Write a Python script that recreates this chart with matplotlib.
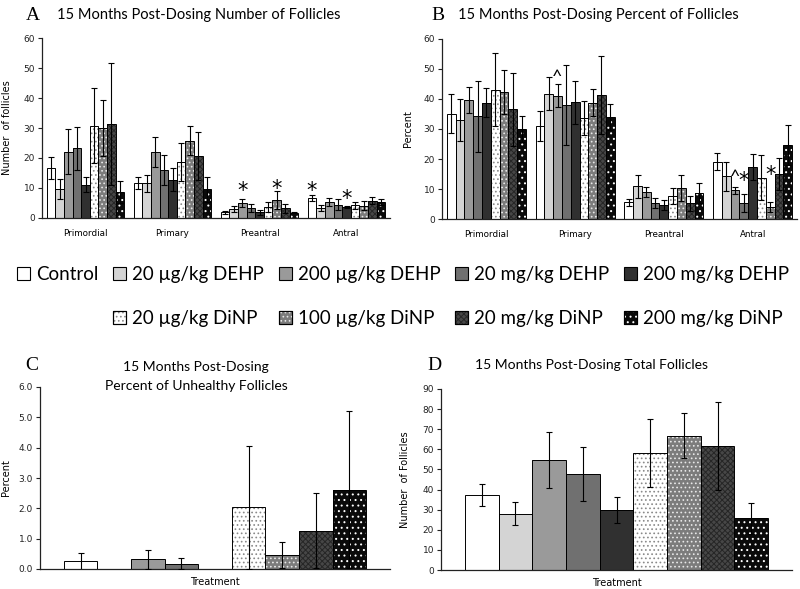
import numpy as np
import matplotlib
matplotlib.use('Agg')
import matplotlib.pyplot as plt
from matplotlib.patches import Patch

# ---------------- data ----------------
categories = ['Primordial', 'Primary', 'Preantral', 'Antral']
treatments = ['Control', '20 µg/kg DEHP', '200 µg/kg DEHP', '20 mg/kg DEHP', '200 mg/kg DEHP',
              '20 µg/kg DiNP', '100 µg/kg DiNP', '20 mg/kg DiNP', '200 mg/kg DiNP']

# Panel A: number of follicles (rows = treatments, cols = categories)
num_mean = [[16.7, 11.6, 1.9, 6.7],
            [9.7, 11.6, 3.1, 3.3],
            [22.1, 22.0, 5.0, 5.3],
            [23.2, 15.9, 3.3, 4.4],
            [11.1, 12.8, 1.9, 3.7],
            [30.8, 18.6, 3.7, 4.2],
            [30.1, 25.8, 6.1, 4.1],
            [31.3, 20.6, 3.2, 5.8],
            [8.6, 9.6, 1.7, 5.2]]
num_err = [[3.7, 2.1, 0.5, 0.9],
           [3.3, 2.8, 1.0, 1.1],
           [7.6, 5.0, 1.3, 1.4],
           [7.1, 5.0, 1.3, 1.9],
           [2.6, 3.9, 0.9, 0.4],
           [12.5, 6.4, 1.6, 1.1],
           [9.3, 4.8, 3.0, 1.6],
           [20.3, 8.1, 1.6, 1.3],
           [3.7, 4.2, 0.2, 1.0]]

# Panel B: percent of follicles
pct_mean = [[35.1, 30.9, 5.6, 19.1],
            [32.9, 41.8, 10.9, 14.2],
            [39.8, 41.1, 9.0, 9.6],
            [34.2, 38.0, 5.3, 5.3],
            [38.8, 38.9, 4.7, 17.3],
            [43.1, 33.6, 7.6, 13.7],
            [42.3, 38.8, 10.4, 4.0],
            [36.6, 41.4, 5.3, 15.0],
            [30.0, 34.0, 8.7, 24.7]]
pct_err = [[6.5, 5.0, 1.2, 2.9],
           [7.0, 5.5, 3.9, 4.8],
           [4.3, 3.8, 1.6, 1.1],
           [11.9, 13.4, 1.7, 3.1],
           [4.9, 7.2, 1.7, 4.4],
           [12.2, 5.6, 2.7, 7.5],
           [7.3, 4.5, 4.4, 1.6],
           [12.1, 13.0, 2.5, 5.3],
           [4.2, 4.3, 3.3, 6.6]]

# Panel C: percent unhealthy follicles
unh_mean = [0.26, 0.0, 0.32, 0.18, 0.0, 2.03, 0.46, 1.26, 2.62]
unh_err = [0.28, 0.0, 0.31, 0.19, 0.0, 2.04, 0.43, 1.23, 2.60]

# Panel D: total follicles
tot_mean = [37.3, 28.0, 54.7, 47.6, 29.9, 58.2, 66.8, 61.5, 25.7]
tot_err = [5.6, 5.7, 13.8, 13.5, 6.6, 16.8, 11.1, 21.8, 7.6]

# significance markers: (category index, treatment index, symbol, y level)
sig_A = [(2, 2, '*', 11.1), (2, 6, '*', 11.7), (3, 0, '*', 11.1), (3, 4, '*', 8.3)]
sig_B = [(1, 2, '^', 49.2), (3, 2, '^', 15.9), (3, 3, '*', 14.8), (3, 6, '*', 16.7)]

# ---------------- style ----------------
faces = ['white', '#d4d4d4', '#9a9a9a', '#707070', '#303030', 'white', '#7c7c7c', '#474747', '#0a0a0a']
hatches = [None, None, None, None, None, '....', '....', 'xxxxxx', '...']
hatch_cols = [None, None, None, None, None, '#8a8a8a', '#e8e8e8', '#262626', 'white']

plt.rcParams['hatch.linewidth'] = 0.7
plt.rcParams['font.family'] = ['DejaVu Sans']
TITLE_FONT = ['Lato', 'DejaVu Sans']
LETTER_FONT = ['Liberation Serif', 'DejaVu Serif']

fig = plt.figure(figsize=(8, 5.89), dpi=100)
W, H = 800.0, 589.0


def add_axes(l, r, t, b):
    return fig.add_axes([l / W, 1 - b / H, (r - l) / W, (b - t) / H])


def draw_bars(ax, x, h, w, i):
    ax.bar(x, h, w, color=faces[i], edgecolor='none', linewidth=0, zorder=2)
    if hatches[i]:
        ax.bar(x, h, w, facecolor='none', edgecolor=hatch_cols[i], hatch=hatches[i],
               linewidth=0, zorder=2.5)
    ax.bar(x, h, w, fill=False, edgecolor='black', linewidth=0.7, zorder=3)


def style_axes(ax):
    for s in ['top', 'right']:
        ax.spines[s].set_visible(False)
    for s in ['left', 'bottom']:
        ax.spines[s].set_linewidth(0.9)
        ax.spines[s].set_color('#222222')
    ax.tick_params(axis='y', labelsize=6.5, length=3, width=0.8, pad=2, colors='#222222')
    ax.tick_params(axis='x', length=0)


def grouped(ax, mean, err, ymax, ylabel, labx):
    bw = 0.099
    base = np.arange(len(categories))
    for i in range(len(treatments)):
        x = base + (i - 4) * bw
        draw_bars(ax, x, mean[i], bw, i)
        ax.errorbar(x, mean[i], yerr=err[i], fmt='none', ecolor='black', elinewidth=0.8,
                    capsize=2.2, capthick=0.8, zorder=4)
    ax.set_xlim(-0.5, 3.5)
    ax.set_ylim(0, ymax)
    ax.set_yticks(np.arange(0, ymax + 1, 10))
    ax.set_xticks(base)
    ax.set_xticklabels(categories, fontsize=6.3)
    ax.tick_params(axis='x', pad=8)
    style_axes(ax)
    ax.set_ylabel(ylabel, fontsize=7)
    ax.yaxis.set_label_coords(labx, 0.5)
    return bw


def add_sig(ax, sigs, bw):
    for c, i, sym, y in sigs:
        if sym == '*':
            fs, fam = 15, ['DejaVu Sans']
        else:
            fs, fam = 13, TITLE_FONT
        ax.annotate(sym, (c + (i - 4) * bw, y), xytext=(0, -0.3 * fs), textcoords='offset points',
                    ha='center', va='center', fontsize=fs, family=fam, color='black', zorder=5)


# Panel A
axA = add_axes(42, 390, 38, 218)
bw = grouped(axA, num_mean, num_err, 60, 'Number  of follicles', -0.086)
add_sig(axA, sig_A, bw)

# Panel B
axB = add_axes(442, 797, 39, 219)
bw = grouped(axB, pct_mean, pct_err, 60, 'Percent', -0.082)
add_sig(axB, sig_B, bw)


def single(ax, mean, err, ymax, step, fmt, ylabel, labx):
    x = np.arange(len(treatments))
    for i in range(len(treatments)):
        draw_bars(ax, [x[i]], [mean[i]], 1.0, i)
        if err[i] > 0:
            ax.errorbar([x[i]], [mean[i]], yerr=[err[i]], fmt='none', ecolor='black',
                        elinewidth=0.8, capsize=2.5, capthick=0.8, zorder=4)
    ax.set_xlim(-1.21, 9.21)
    ax.set_ylim(0, ymax)
    ticks = np.arange(0, ymax + step / 2, step)
    ax.set_yticks(ticks)
    ax.set_yticklabels([fmt.format(v) for v in ticks])
    ax.set_xticks([])
    style_axes(ax)
    ax.set_xlabel('Treatment', fontsize=7, labelpad=6)
    ax.set_ylabel(ylabel, fontsize=7)
    ax.yaxis.set_label_coords(labx, 0.5)


# Panel C
axC = add_axes(40, 390, 387, 569)
single(axC, unh_mean, unh_err, 6.0, 1.0, '{:.1f}', 'Percent', -0.083)

# Panel D
axD = add_axes(441, 792, 389, 570)
single(axD, tot_mean, tot_err, 90, 10, '{:.0f}', 'Number  of Follicles', -0.088)

# ---------------- titles ----------------
fig.text(26 / W, 1 - 15 / H, 'A', fontsize=14, family=LETTER_FONT, va='center', ha='left')
fig.text(57 / W, 1 - 15 / H, '15 Months Post-Dosing Number of Follicles', fontsize=10.5,
         family=TITLE_FONT, va='center', ha='left')
fig.text(431 / W, 1 - 15 / H, 'B', fontsize=14, family=LETTER_FONT, va='center', ha='left')
fig.text(458 / W, 1 - 15 / H, '15 Months Post-Dosing Percent of Follicles', fontsize=10.5,
         family=TITLE_FONT, va='center', ha='left')
fig.text(25 / W, 1 - 366 / H, 'C', fontsize=14, family=LETTER_FONT, va='center', ha='left')
fig.text(196 / W, 1 - 367 / H, '15 Months Post-Dosing', fontsize=10, family=TITLE_FONT,
         va='center', ha='center')
fig.text(196 / W, 1 - 386 / H, 'Percent of Unhealthy Follicles', fontsize=10, family=TITLE_FONT,
         va='center', ha='center')
fig.text(427 / W, 1 - 365 / H, 'D', fontsize=14, family=LETTER_FONT, va='center', ha='left')
fig.text(475 / W, 1 - 365 / H, '15 Months Post-Dosing Total Follicles', fontsize=10,
         family=TITLE_FONT, va='center', ha='left')

# ---------------- legend ----------------
def handle(i):
    face = Patch(facecolor=faces[i], edgecolor='black', linewidth=0.8)
    if hatches[i]:
        return (face, Patch(facecolor='none', edgecolor=hatch_cols[i], hatch=hatches[i], linewidth=0),
                Patch(fill=False, edgecolor='black', linewidth=0.8))
    return face


blank = Patch(facecolor='none', edgecolor='none')
order = [0, None, 1, 5, 2, 6, 3, 7, 4, 8]
handles = [blank if k is None else handle(k) for k in order]
labels = ['' if k is None else treatments[k] for k in order]
fig.legend(handles, labels, ncol=5, loc='upper left', bbox_to_anchor=(17 / W, 1 - 266 / H),
           frameon=False, prop={'family': TITLE_FONT, 'size': 13.5}, handlelength=0.7,
           handleheight=0.7, handletextpad=0.3, columnspacing=0.8, labelspacing=1.45,
           borderpad=0, borderaxespad=0)

fig.savefig('out.png', dpi=100)
